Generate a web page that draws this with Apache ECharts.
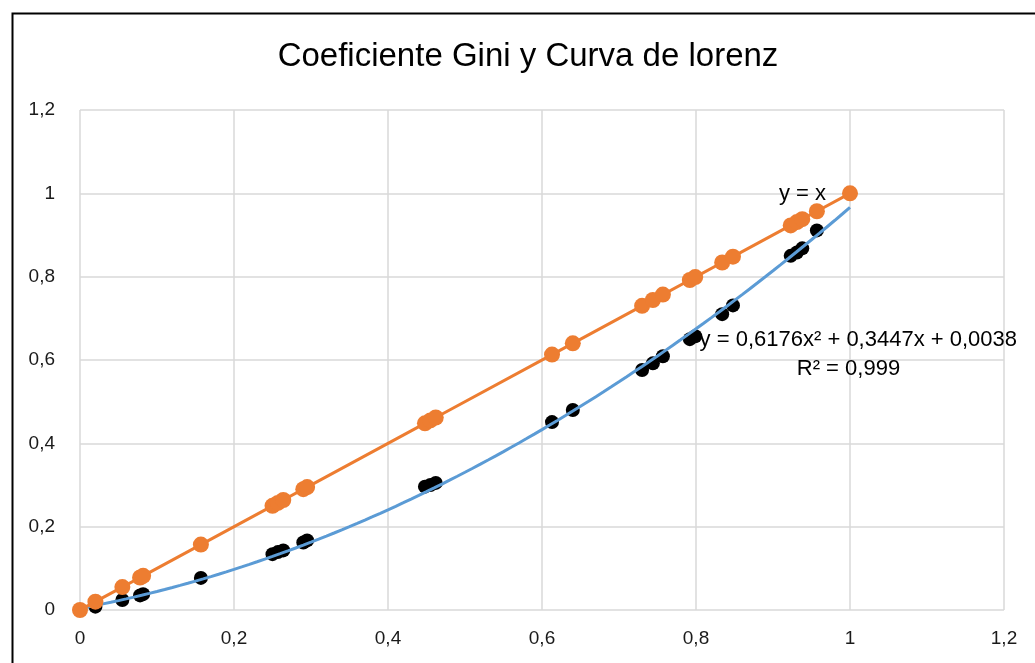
<!DOCTYPE html>
<html>
<head>
<meta charset="utf-8">
<script src="https://cdn.jsdelivr.net/npm/echarts@6/dist/echarts.min.js"></script>
<style>
html,body{margin:0;padding:0;background:#fff;}
#c{width:1035px;height:663px;}
</style>
</head>
<body>
<div id="c"></div>
<script>
// Cumulative population share (x) and cumulative income share (Lorenz)
const popShare = [0, 0.02, 0.055, 0.078, 0.082, 0.157, 0.25, 0.257, 0.264, 0.29, 0.295,
  0.448, 0.455, 0.462, 0.613, 0.64, 0.73, 0.744, 0.757, 0.792, 0.799, 0.834, 0.848,
  0.923, 0.931, 0.938, 0.957, 1.0];
const incomeShare = [0, 0.008, 0.024, 0.035, 0.038, 0.077, 0.134, 0.139, 0.143, 0.162, 0.167,
  0.296, 0.300, 0.305, 0.451, 0.480, 0.576, 0.592, 0.609, 0.650, 0.657, 0.710, 0.731,
  0.850, 0.858, 0.868, 0.911, 1.0];
// Polynomial trendline shown in the chart: y = a x^2 + b x + c
const trendCoef = [0.6176, 0.3447, 0.0038];
const trendLabel = 'y = 0,6176x² + 0,3447x + 0,0038';
const r2Label = 'R² = 0,999';
const equalityLabel = 'y = x';
const titleText = 'Coeficiente Gini y Curva de lorenz';

const equality = popShare.map(x => [x, x]);
const lorenz = popShare.map((x, i) => [x, incomeShare[i]]);
const trend = [];
for (let i = 0; i <= 100; i++) {
  const x = i / 100;
  trend.push([x, trendCoef[0] * x * x + trendCoef[1] * x + trendCoef[2]]);
}

const FONT = 'Liberation Sans';
const fmt = v => String(Math.round(v * 10) / 10).replace('.', ',');
const chart = echarts.init(document.getElementById('c'));
const option = {
  animation: false,
  backgroundColor: '#fff',
  grid: {left: 80, right: 31, top: 110, bottom: 53},
  xAxis: {
    type: 'value', min: 0, max: 1.2, interval: 0.2,
    axisLine: {show: false}, axisTick: {show: false},
    splitLine: {lineStyle: {color: '#d9d9d9', width: 1.5}},
    axisLabel: {formatter: fmt, fontFamily: FONT, fontSize: 19, color: '#1a1a1a', margin: 19}
  },
  yAxis: {
    type: 'value', min: 0, max: 1.2, interval: 0.2,
    axisLine: {show: false}, axisTick: {show: false},
    splitLine: {lineStyle: {color: '#d9d9d9', width: 1.5}},
    axisLabel: {formatter: fmt, fontFamily: FONT, fontSize: 19, color: '#1a1a1a', margin: 25}
  },
  series: [
    {
      type: 'line', data: trend, showSymbol: false, symbol: 'none', z: 3,
      lineStyle: {color: '#5B9BD5', width: 3}
    },
    {
      type: 'scatter', data: lorenz, symbol: 'circle', symbolSize: 14, z: 2,
      itemStyle: {color: '#000', opacity: 1}
    },
    {
      type: 'line', data: equality, symbol: 'circle', symbolSize: 16, z: 4,
      lineStyle: {color: '#ED7D31', width: 3},
      itemStyle: {color: '#ED7D31', borderWidth: 0}
    }
  ]
};
chart.setOption(option);

const p1 = chart.convertToPixel({gridIndex: 0}, [1, 1]);
const pEq = chart.convertToPixel({gridIndex: 0}, [0.806, 0.648]);
const pR = chart.convertToPixel({gridIndex: 0}, [0.998, 0.578]);
chart.setOption({
  graphic: [
    {type: 'rect', left: 10, top: 11, shape: {width: 1060, height: 700},
     style: {fill: 'none', stroke: '#000', lineWidth: 2}, silent: true},
    {type: 'text', x: 528, y: 57, style: {text: titleText, fontFamily: FONT, fontSize: 33,
      fill: '#000', align: 'center', verticalAlign: 'middle'}, z: 10},
    {type: 'text', x: p1[0] - 24, y: p1[1] + 1, style: {text: equalityLabel, fontFamily: FONT, fontSize: 22,
      fill: '#000', align: 'right', verticalAlign: 'middle'}, z: 10},
    {type: 'text', x: pEq[0] - 1, y: pEq[1], style: {text: trendLabel, fontFamily: FONT, fontSize: 22,
      fill: '#000', align: 'left', verticalAlign: 'middle'}, z: 10},
    {type: 'text', x: pR[0], y: pR[1], style: {text: r2Label, fontFamily: FONT, fontSize: 22,
      fill: '#000', align: 'center', verticalAlign: 'middle'}, z: 10}
  ]
});
</script>
</body>
</html>
